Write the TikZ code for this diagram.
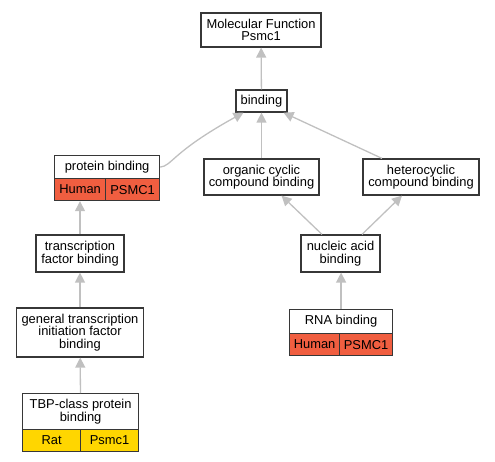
\documentclass[tikz,border=0pt]{standalone}
\usepackage{fontspec}
\setmainfont{Liberation Sans}
\usetikzlibrary{arrows.meta}
\definecolor{boxline}{RGB}{55,55,55}
\definecolor{edgegray}{RGB}{192,192,192}
\definecolor{humanred}{RGB}{240,94,64}
\definecolor{ratgold}{RGB}{255,214,0}
\begin{document}
\begin{tikzpicture}[x=1pt, y=-1pt]
    \tikzstyle{term} = [draw=boxline, line width=1.2pt, fill=white, align=center,
        inner sep=0pt, font=\fontsize{12.9}{12.6}\selectfont]
    \tikzstyle{cell} = [term, anchor=north west]
    \tikzstyle{edge} = [draw=edgegray, line width=1.3pt, -{Triangle[length=10pt, width=10pt]}]
    \useasboundingbox (0, 0) rectangle (495, 461);
    % terms
    \node[term, minimum width=120, minimum height=34] (mf) at (261, 30) {Molecular Function\\Psmc1};
    \node[term, minimum width=51, minimum height=22] (bind) at (261.5, 101) {binding};
    \node[term, minimum width=115, minimum height=36] (ocb) at (261.5, 177) {organic cyclic\\compound binding};
    \node[term, minimum width=116, minimum height=36] (hcb) at (421, 177) {heterocyclic\\compound binding};
    \node[term, minimum width=79, minimum height=37] (nab) at (340.5, 253.5) {nucleic acid\\binding};
    \node[term, minimum width=88, minimum height=37] (tfb) at (80, 253.5) {transcription\\factor binding};
    \node[term, minimum width=127, minimum height=49] (gti) at (80, 332.5) {general transcription\\initiation factor\\binding};
    % terms with species rows
    \node[term, minimum width=105, minimum height=23, anchor=north west] (pb) at (54, 155) {protein binding};
    \node[cell, fill=humanred, minimum width=51, minimum height=22] (pbA) at (54, 178) {Human};
    \node[cell, fill=humanred, minimum width=54, minimum height=22] (pbB) at (105, 178) {PSMC1};
    \node[term, minimum width=103, minimum height=24, anchor=north west] (rna) at (289, 309) {RNA binding};
    \node[cell, fill=humanred, minimum width=50, minimum height=22] (rnaA) at (289, 333) {Human};
    \node[cell, fill=humanred, minimum width=53, minimum height=22] (rnaB) at (339, 333) {PSMC1};
    \node[term, minimum width=116, minimum height=36, anchor=north west] (tbp) at (22, 393) {TBP-class protein\\binding};
    \node[cell, fill=ratgold, minimum width=58, minimum height=22] (tbpA) at (22, 429) {Rat};
    \node[cell, fill=ratgold, minimum width=58, minimum height=22] (tbpB) at (80, 429) {Psmc1};
    % is-a edges
    \draw[edge] (bind) -- (mf);
    \draw[edge] (ocb) -- (bind);
    \draw[edge] ([xshift=-39pt]hcb.north) -- ([xshift=22pt]bind.south);
    \draw[edge] (pb.east) .. controls (172, 166) and (172, 152) .. ([xshift=-18pt]bind.south);
    \draw[edge] ([xshift=-18.5pt]nab.north) -- ([xshift=20pt]ocb.south);
    \draw[edge] ([xshift=21.5pt]nab.north) -- ([xshift=-19pt]hcb.south);
    \draw[edge] (tfb) -- (pbA.south -| tfb.north);
    \foreach \a/\b in {gti/tfb, tbp/gti} {
        \draw[edge] (\a) -- (\b);
    }
    \draw[edge] (rna.north) -- (rna.north |- nab.south);
\end{tikzpicture}
\end{document}
